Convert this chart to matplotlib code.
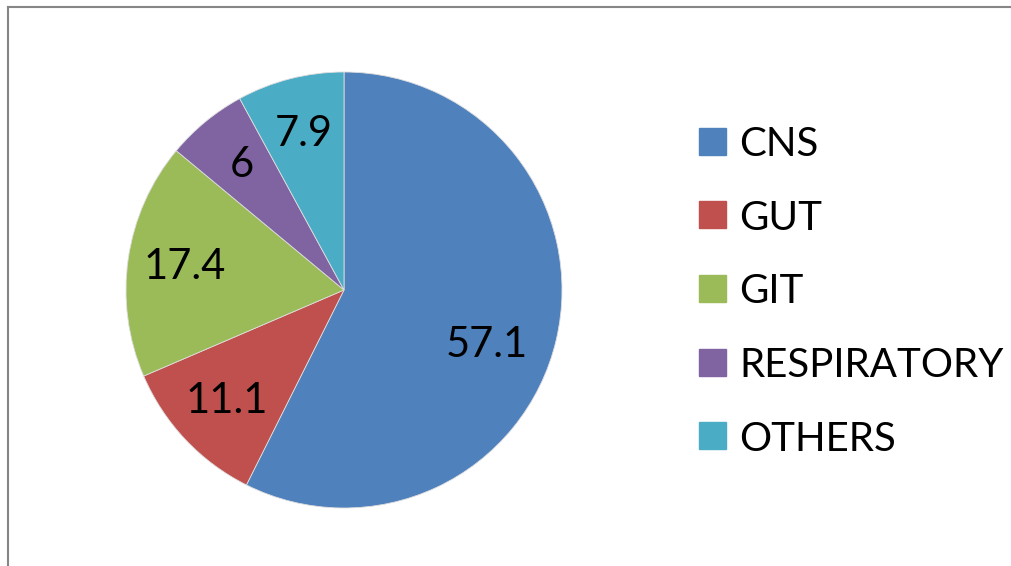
import numpy as np
import matplotlib.pyplot as plt
from matplotlib.patches import Rectangle
from matplotlib.lines import Line2D

plt.rcParams["font.family"] = ["Lato", "DejaVu Sans"]

categories = ["CNS", "GUT", "GIT", "RESPIRATORY", "OTHERS"]
values = [57.1, 11.1, 17.4, 6, 7.9]
colors = ["#4F81BD", "#C0504D", "#9BBB59", "#8064A2", "#4BACC6"]

W, H = 1011, 566
fig = plt.figure(figsize=(W / 100, H / 100), dpi=100)

# pie area in pixels: centre (344, 290), radius 218
cx, cy, r = 344, 290, 218
ax = fig.add_axes([(cx - r) / W, (H - cy - r) / H, 2 * r / W, 2 * r / H])
total = sum(values)
wedges, texts, autotexts = ax.pie(
    values, colors=colors, startangle=90, counterclock=False, radius=1,
    autopct=lambda p: f"{round(p * total / 100, 1):g}", pctdistance=0.74,
    textprops={"fontsize": 30, "color": "black"},
    wedgeprops={"linewidth": 0.6, "edgecolor": "#dddddd"})
# excel puts the big label a bit lower than the wedge middle
a = np.deg2rad(-21)
autotexts[0].set_position((0.70 * np.cos(a), 0.70 * np.sin(a)))
ax.set_xlim(-1, 1)
ax.set_ylim(-1, 1)
ax.set_aspect("equal")

# legend drawn by hand to match row spacing
box, x0, y0, step = 27, 699, 141, 73.7
for i, (lab, col) in enumerate(zip(categories, colors)):
    yc = y0 + i * step
    fig.add_artist(Rectangle((x0 / W, (H - yc - box / 2) / H), box / W, box / H,
                             transform=fig.transFigure, color=col))
    fig.text((x0 + box + 13) / W, (H - yc) / H, lab, fontsize=29,
             va="center_baseline", ha="left")

# chart frame (only top and left edges are visible)
fig.add_artist(Line2D([7.5 / W, 7.5 / W], [0, (H - 6.5) / H], color="#868686", lw=1.5))
fig.add_artist(Line2D([7.5 / W, 1], [(H - 6.5) / H, (H - 6.5) / H], color="#868686", lw=1.5))

fig.savefig("out.png", dpi=100)
